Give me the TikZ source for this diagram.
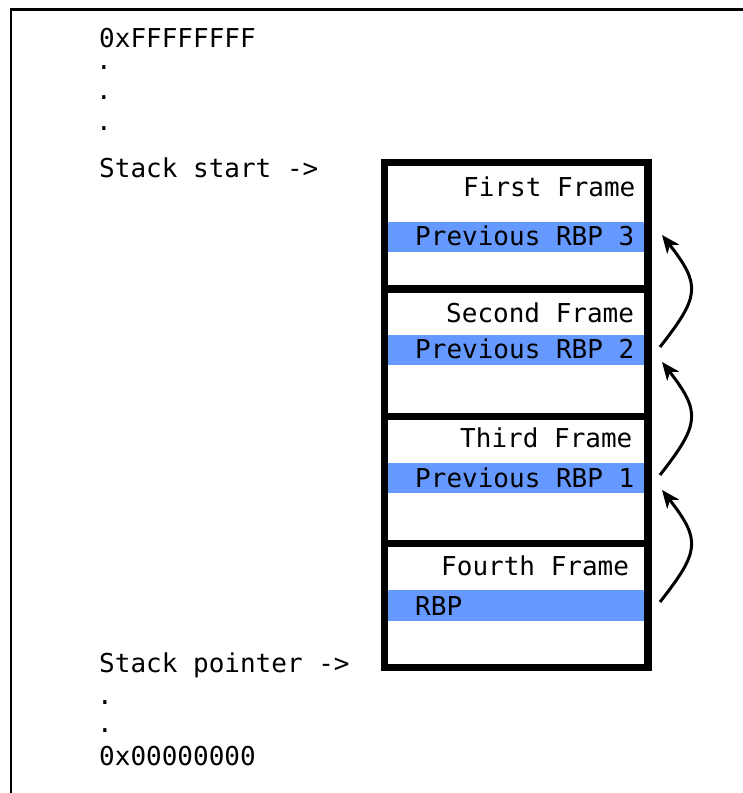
\documentclass[tikz,border=0pt]{standalone}
\usepackage{fontspec}
\setmonofont{DejaVu Sans Mono}
\usetikzlibrary{arrows.meta}
\definecolor{barblue}{RGB}{102,153,255}
\begin{document}
\begin{tikzpicture}[x=1pt,y=1pt,
  txt/.style={font=\ttfamily\fontsize{26}{30}\selectfont, inner sep=0pt, anchor=base west},
  dotlbl/.style={font=\ttfamily\fontsize{26}{30}\selectfont, inner sep=0pt, anchor=base},
  frameline/.style={line width=7.5pt},
  barfill/.style={fill=barblue, draw=none},
  link/.style={line width=3pt, -{Stealth[length=18pt,width=15pt,inset=5pt]}},
  border/.style={line width=2.6pt}]
\useasboundingbox (0,0) rectangle (743,-793);
% page border (top and left)
\draw[border] (10.8,-793) -- (10.8,-9.3) -- (743,-9.3);

% address labels
\node[txt] (top) at (99,-47) {0xFFFFFFFF};
\node[dotlbl] (d1) at (104,-69) {.};
\node[dotlbl] (d2) at (104,-99) {.};
\node[dotlbl] (d3) at (104,-130) {.};
\node[txt] (start) at (99,-177) {Stack start ->};
\node[txt] (sp) at (99,-672) {Stack pointer ->};
\node[dotlbl] (d4) at (105,-704) {.};
\node[dotlbl] (d5) at (105,-732) {.};
\node[txt] (bottom) at (99,-765) {0x00000000};

% highlighted RBP rows
\fill[barfill] (384.5,-222) rectangle (648,-252);
\fill[barfill] (384.5,-335) rectangle (648,-365);
\fill[barfill] (384.5,-463) rectangle (648,-493);
\fill[barfill] (384.5,-590) rectangle (648,-621);

% stack frames
\draw[frameline] (384.5,-162.5) rectangle (648,-667.5);
\draw[frameline] (384.5,-289) -- (648,-289);
\draw[frameline] (384.5,-416.5) -- (648,-416.5);
\draw[frameline] (384.5,-543.5) -- (648,-543.5);

% frame titles
\node[txt] (f1) at (463,-196) {First Frame};
\node[txt] (f2) at (446,-322) {Second Frame};
\node[txt] (f3) at (460,-447) {Third Frame};
\node[txt] (f4) at (441,-575) {Fourth Frame};

% RBP texts
\node[txt] (r3) at (415,-245) {Previous RBP 3};
\node[txt] (r2) at (415,-358) {Previous RBP 2};
\node[txt] (r1) at (415,-487) {Previous RBP 1};
\node[txt] (r0) at (415,-615) {RBP};

% arrow end points
\coordinate (a1s) at (660,-347);
\coordinate (a1e) at (662,-235);
\coordinate (a2s) at (660,-475);
\coordinate (a2e) at (662,-362);
\coordinate (a3s) at (660,-602);
\coordinate (a3e) at (662,-490);

\draw[link] (a1s) .. controls +(52:64) and +(-52:64) .. (a1e);
\draw[link] (a2s) .. controls +(52:64) and +(-52:64) .. (a2e);
\draw[link] (a3s) .. controls +(52:64) and +(-52:64) .. (a3e);
\end{tikzpicture}
\end{document}
